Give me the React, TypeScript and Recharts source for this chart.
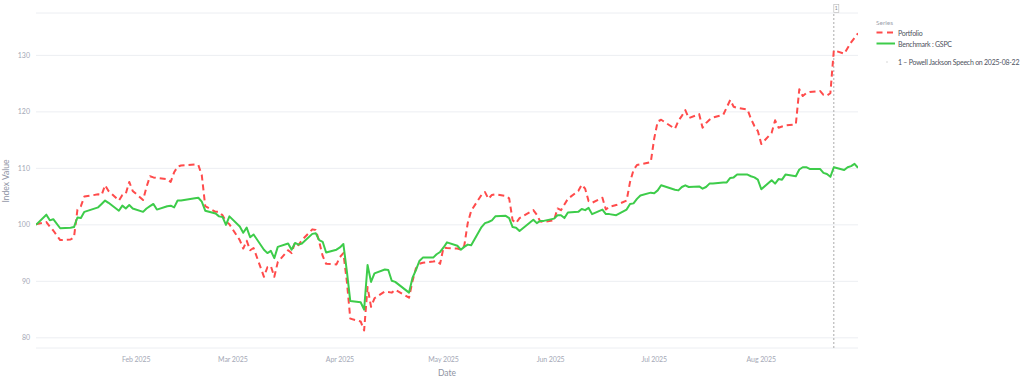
import React from 'react';
import { LineChart, Line, XAxis, YAxis, CartesianGrid, ReferenceLine } from 'recharts';

const FONT = 'Lato, "Noto Sans", sans-serif';

// trading days, Jan 3 - Aug 29 2025
const dates = [
  // Jan
  '2025-01-03', '2025-01-06', '2025-01-07', '2025-01-08', '2025-01-10', '2025-01-13', '2025-01-14',
  '2025-01-15', '2025-01-16', '2025-01-17', '2025-01-21', '2025-01-22', '2025-01-23', '2025-01-24',
  '2025-01-27', '2025-01-28', '2025-01-29', '2025-01-30', '2025-01-31',
  // Feb
  '2025-02-03', '2025-02-04', '2025-02-05', '2025-02-06', '2025-02-07', '2025-02-10', '2025-02-11',
  '2025-02-12', '2025-02-13', '2025-02-14', '2025-02-18', '2025-02-19', '2025-02-20', '2025-02-21',
  '2025-02-24', '2025-02-25', '2025-02-26', '2025-02-27', '2025-02-28',
  // Mar
  '2025-03-03', '2025-03-04', '2025-03-05', '2025-03-06', '2025-03-07', '2025-03-10', '2025-03-11',
  '2025-03-12', '2025-03-13', '2025-03-14', '2025-03-17', '2025-03-18', '2025-03-19', '2025-03-20',
  '2025-03-21', '2025-03-24', '2025-03-25', '2025-03-26', '2025-03-27', '2025-03-28', '2025-03-31',
  // Apr
  '2025-04-01', '2025-04-02', '2025-04-03', '2025-04-04', '2025-04-07', '2025-04-08', '2025-04-09',
  '2025-04-10', '2025-04-11', '2025-04-14', '2025-04-15', '2025-04-16', '2025-04-17', '2025-04-21',
  '2025-04-22', '2025-04-23', '2025-04-24', '2025-04-25', '2025-04-28', '2025-04-29', '2025-04-30',
  // May
  '2025-05-01', '2025-05-02', '2025-05-05', '2025-05-06', '2025-05-07', '2025-05-08', '2025-05-09',
  '2025-05-12', '2025-05-13', '2025-05-14', '2025-05-15', '2025-05-16', '2025-05-19', '2025-05-20',
  '2025-05-21', '2025-05-22', '2025-05-23', '2025-05-27', '2025-05-28', '2025-05-29', '2025-05-30',
  // Jun
  '2025-06-02', '2025-06-03', '2025-06-04', '2025-06-05', '2025-06-06', '2025-06-09', '2025-06-10',
  '2025-06-11', '2025-06-12', '2025-06-13', '2025-06-16', '2025-06-17', '2025-06-18', '2025-06-20',
  '2025-06-23', '2025-06-24', '2025-06-25', '2025-06-26', '2025-06-27', '2025-06-30',
  // Jul
  '2025-07-01', '2025-07-02', '2025-07-03', '2025-07-07', '2025-07-08', '2025-07-09', '2025-07-10',
  '2025-07-11', '2025-07-14', '2025-07-15', '2025-07-16', '2025-07-17', '2025-07-18', '2025-07-21',
  '2025-07-22', '2025-07-23', '2025-07-24', '2025-07-25', '2025-07-28', '2025-07-29', '2025-07-30',
  '2025-07-31',
  // Aug
  '2025-08-01', '2025-08-04', '2025-08-05', '2025-08-06', '2025-08-07', '2025-08-08', '2025-08-11',
  '2025-08-12', '2025-08-13', '2025-08-14', '2025-08-15', '2025-08-18', '2025-08-19', '2025-08-20',
  '2025-08-21', '2025-08-22', '2025-08-25', '2025-08-26', '2025-08-27', '2025-08-28', '2025-08-29',
];

const portfolio = [
  100.1, 100.5, 99.7, 99.0, 97.3, 97.4, 97.8, 102.7, 103.3, 105.0, 105.4, 105.3, 107.0, 106.0,
  104.3, 105.3, 105.5, 107.6, 106.0,
  104.4, 106.7, 108.6, 108.4, 108.3, 108.1, 107.6, 109.3, 110.3, 110.5, 110.7, 110.6, 108.8, 103.3,
  102.3, 102.3, 101.7, 100.6, 100.1,
  97.3, 95.8, 97.2, 95.5, 95.9, 90.8, 92.5, 92.7, 90.8, 93.4, 95.5, 95.0, 96.9, 96.4,
  97.3, 99.2, 99.1, 97.0, 94.5, 93.1, 93.0,
  94.3, 95.0, 90.0, 83.4, 82.9, 81.3, 89.0, 85.5, 87.0, 88.2, 88.1, 88.0, 88.5, 87.1,
  90.0, 92.3, 93.1, 93.3, 93.5, 93.6, 93.1,
  96.0, 95.9, 95.8, 95.6, 96.3, 100.3, 102.5, 105.3, 105.8, 104.6, 105.3, 105.4, 105.1, 104.7,
  100.8, 100.3, 101.2, 102.6, 101.8, 100.6, 100.5,
  100.8, 102.9, 102.6, 103.6, 104.6, 106.0, 107.1, 106.4, 104.2, 103.9, 104.8, 102.7, 103.2, 103.5,
  104.3, 107.6, 109.7, 110.6, 110.7, 111.1,
  115.3, 118.3, 118.6, 117.0, 118.4, 119.3, 120.3, 118.9, 119.6, 117.2, 118.0, 118.6, 119.0, 119.5,
  120.8, 122.1, 120.9, 120.7, 120.4, 118.8, 117.5, 116.6,
  114.3, 116.3, 118.5, 117.2, 117.4, 117.6, 117.8, 124.0, 122.8, 123.3, 123.5, 123.7, 123.0, 122.9,
  123.3, 130.9, 130.3, 131.3, 132.3, 133.1, 133.9,
];

const benchmark = [
  100.0, 101.8, 100.8, 101.0, 99.4, 99.5, 99.6, 101.3, 101.2, 102.3, 103.1, 103.7, 104.3, 103.9,
  102.5, 103.4, 102.9, 103.5, 102.9,
  102.3, 102.9, 103.3, 103.7, 102.7, 103.3, 103.4, 103.1, 104.3, 104.3, 104.7, 104.8, 104.1, 102.5,
  102.0, 101.5, 101.4, 100.0, 101.5,
  99.7, 98.6, 99.5, 97.8, 98.3, 95.6, 95.0, 95.4, 94.1, 96.1, 96.7, 95.6, 96.8, 96.5,
  96.7, 98.4, 98.5, 97.3, 97.0, 95.1, 95.6,
  96.0, 96.6, 91.8, 86.5, 86.3, 85.0, 92.9, 89.9, 91.4, 92.1, 92.0, 90.1, 89.9, 88.0,
  90.6, 92.0, 93.6, 94.2, 94.2, 94.8, 95.2,
  96.0, 96.9, 96.3, 95.6, 96.1, 96.5, 96.4, 99.6, 100.3, 100.5, 100.8, 101.5, 101.6, 101.2,
  99.6, 99.5, 98.9, 100.9, 100.3, 100.7, 100.7,
  101.1, 101.7, 101.7, 101.2, 102.2, 102.3, 102.8, 102.6, 103.0, 101.9, 102.7, 101.9, 101.9, 101.7,
  102.7, 103.7, 103.8, 104.6, 105.2, 105.7,
  105.6, 106.1, 107.0, 106.2, 106.1, 106.7, 107.0, 106.7, 106.8, 106.4, 106.7, 107.3, 107.3, 107.5,
  107.5, 108.3, 108.4, 108.9, 108.9, 108.6, 108.4, 108.0,
  106.3, 107.9, 107.3, 108.1, 108.0, 108.9, 108.6, 109.8, 110.2, 110.2, 109.9, 109.9, 109.2, 109.0,
  108.5, 110.2, 109.7, 110.2, 110.4, 110.8, 110.1,
];

const monthTicks = ['2025-02-01', '2025-03-01', '2025-04-01', '2025-05-01', '2025-06-01', '2025-07-01', '2025-08-01'];
const monthLabels = ['Feb 2025', 'Mar 2025', 'Apr 2025', 'May 2025', 'Jun 2025', 'Jul 2025', 'Aug 2025'];
const yTicks = [80, 90, 100, 110, 120, 130];

const eventDate = '2025-08-22';
const eventLabel = '1 – Powell Jackson Speech on 2025-08-22';

const toTime = (d: string) => Date.parse(d + 'T00:00:00Z');
const tickTimes = monthTicks.map(toTime);

const chartData = dates.map((d, i) => ({
  t: toTime(d),
  portfolio: portfolio[i],
  benchmark: benchmark[i],
}));

const RED = '#ff4b4b';
const GREEN = '#3dcc4a';
const TICK = '#a4a8b6';
const LEGEND_TEXT = '#4e5260';

const EventTag = (props: any) => {
  const { viewBox } = props;
  if (!viewBox) return null;
  const x = viewBox.x;
  const y = viewBox.y;
  return (
    <g>
      <rect x={x} y={y - 8.5} width={5} height={8} fill="#fff" stroke="#b5b5b5" strokeWidth={0.6} />
      <text x={x + 2.5} y={y - 2.6} textAnchor="middle" fontSize={5} fill="#888" fontFamily={FONT}>1</text>
    </g>
  );
};

export default function App() {
  return (
    <div style={{ position: 'absolute', left: 0, top: 0, width: 1024, height: 381, background: '#fff', fontFamily: FONT }}>
      <LineChart
        width={1024}
        height={381}
        data={chartData}
        margin={{ top: 13, right: 166, bottom: 0, left: 0 }}
      >
        <CartesianGrid vertical={false} stroke="#eceef2" />
        <XAxis
          dataKey="t"
          type="number"
          domain={[toTime(dates[0]), toTime(dates[dates.length - 1])]}
          ticks={tickTimes}
          tickFormatter={(v: number) => monthLabels[tickTimes.indexOf(v)]}
          axisLine={false}
          tickLine={false}
          tickSize={0}
          tickMargin={9}
          height={33}
          tick={{ fontSize: 7, fill: TICK, fontFamily: FONT, letterSpacing: -0.1 }}
          allowDataOverflow
        />
        <YAxis
          type="number"
          domain={[78.2, 137.5]}
          ticks={yTicks}
          axisLine={false}
          tickLine={false}
          tickSize={0}
          tickMargin={6}
          width={36}
          tick={{ fontSize: 7, fill: TICK, fontFamily: FONT }}
          allowDataOverflow
        />
        <ReferenceLine
          x={toTime(eventDate)}
          stroke="#ababab"
          strokeWidth={1}
          strokeDasharray="2 2"
          label={<EventTag />}
        />
        <Line
          type="linear"
          dataKey="portfolio"
          name="Portfolio"
          stroke={RED}
          strokeWidth={2}
          strokeDasharray="6 4"
          strokeLinejoin="round"
          dot={false}
          isAnimationActive={false}
        />
        <Line
          type="linear"
          dataKey="benchmark"
          name="Benchmark : GSPC"
          stroke={GREEN}
          strokeWidth={2}
          strokeLinejoin="round"
          dot={false}
          isAnimationActive={false}
        />
      </LineChart>

      <svg
        width={1024}
        height={381}
        style={{ position: 'absolute', left: 0, top: 0, pointerEvents: 'none' }}
        fontFamily={FONT}
      >
        <text x={6} y={181} transform="rotate(-90 6 181)" textAnchor="middle" dominantBaseline="central" fontSize={8.5} fill="#8e93a3">
          Index Value
        </text>
        <text x={447} y={373} textAnchor="middle" dominantBaseline="central" fontSize={8.5} fill="#8e93a3">
          Date
        </text>

        <text x={876} y={22.5} dominantBaseline="central" fontSize={6.5} fill="#9da1ad">Series</text>
        <line x1={876.5} y1={32.5} x2={893} y2={32.5} stroke={RED} strokeWidth={2} strokeDasharray="6 4.5" />
        <text x={898} y={33} dominantBaseline="central" fontSize={7} letterSpacing={-0.25} fill={LEGEND_TEXT}>Portfolio</text>
        <line x1={876.5} y1={43.5} x2={895} y2={43.5} stroke={GREEN} strokeWidth={2} />
        <text x={898} y={43.5} dominantBaseline="central" fontSize={7} letterSpacing={-0.25} fill={LEGEND_TEXT}>Benchmark : GSPC</text>
        <line x1={886} y1={62} x2={888} y2={62} stroke="#d8d8d8" strokeWidth={1} />
        <text x={898} y={62} dominantBaseline="central" fontSize={7} letterSpacing={-0.25} fill={LEGEND_TEXT}>{eventLabel}</text>
      </svg>
    </div>
  );
}
